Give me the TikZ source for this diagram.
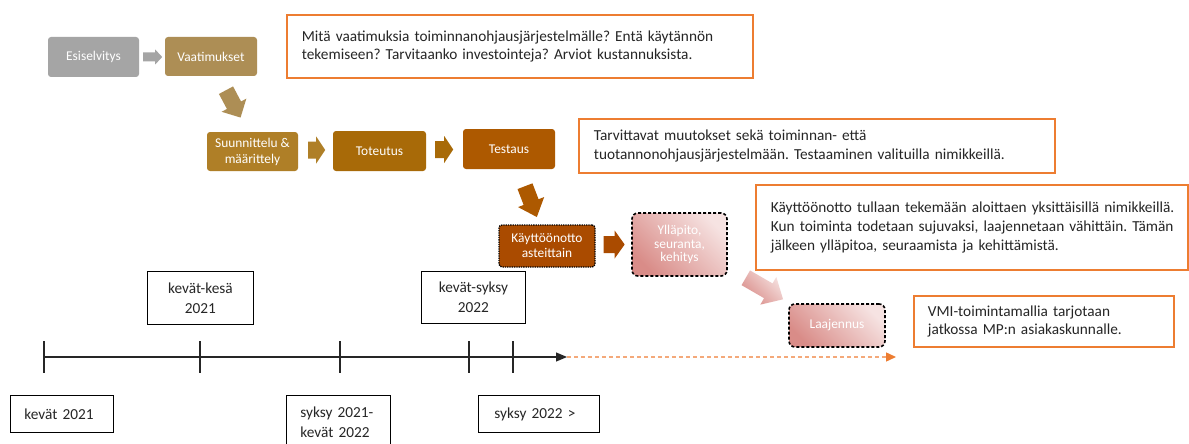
\documentclass[tikz,border=0pt]{standalone}
\usepackage{fontspec}
\setmainfont{Carlito}
\usetikzlibrary{arrows.meta,calc}

\definecolor{cGray}{HTML}{A5A5A5}
\definecolor{cTan}{HTML}{AD8E55}
\definecolor{cGold}{HTML}{AF7F27}
\definecolor{cOchre}{HTML}{A86A08}
\definecolor{cRust}{HTML}{AD5900}
\definecolor{cBrick}{HTML}{AA4B00}
\definecolor{cPinkD}{HTML}{D98C88}
\definecolor{cPinkL}{HTML}{F6E3E2}
\definecolor{cOrange}{HTML}{ED7D31}
\definecolor{cOrangeL}{HTML}{F4A97A}
\definecolor{cInk}{HTML}{262626}

% block arrow: start point, angle below horizontal, length,
% shaft half width, head half width, head length, paint options
\newcommand{\blockarrow}[7]{%
  \path[#7, shift={#1}, rotate=-#2]
    (0,-#4) -- (#3-#6,-#4) -- (#3-#6,-#5) -- (#3,0)
    -- (#3-#6,#5) -- (#3-#6,#4) -- (0,#4) -- cycle;
}

\begin{document}
\frenchspacing
\begin{tikzpicture}[x=1pt, y=-1pt,
  proc/.style={rounded corners=3pt, text=white, align=center, inner sep=0pt,
    font=\fontsize{13.4}{16}\selectfont},
  grad/.style={bottom color=cPinkD, top color=cPinkL, shading angle=-45},
  note/.style={draw=cOrange, line width=1.8pt, fill=white, text=cInk,
    align=left, inner xsep=15pt, inner ysep=0pt, anchor=north west,
    font=\fontsize{15.3}{18.6}\selectfont},
  tlbox/.style={draw=black, line width=0.9pt, fill=white, text=cInk,
    inner xsep=14pt, inner ysep=0pt, anchor=north west,
    font=\fontsize{15.3}{20}\selectfont},
  axisline/.style={draw=black!85, line width=1.1pt}
]
\fill[white] (0,0) rectangle (1189,444);
\useasboundingbox (0,0) rectangle (1189,444);

% process steps
\node[proc, fill=cGray, minimum width=91, minimum height=40] (pre) at (93.5,57) {Esiselvitys};
\node[proc, fill=cTan, minimum width=92, minimum height=39] (req) at (211,56.5) {Vaatimukset};
\node[proc, fill=cGold, minimum width=91, minimum height=39] (plan) at (252.5,151.5) {Suunnittelu \&\\määrittely};
\node[proc, fill=cOchre, minimum width=93, minimum height=40] (impl) at (379.5,151) {Toteutus};
\node[proc, fill=cRust, minimum width=92, minimum height=40] (test) at (509,149) {Testaus};
\node[proc, fill=cBrick, draw=black, densely dotted, line width=1.3pt,
  minimum width=96, minimum height=42, font=\fontsize{13.4}{15}\selectfont] (deploy) at (547,246) {Käyttöönotto\\asteittain};
\node[proc, grad, draw=black, dash pattern=on 3pt off 2pt, line width=1.6pt,
  minimum width=95, minimum height=63, rounded corners=6pt,
  font=\fontsize{13.4}{13.8}\selectfont] (maint) at (679.5,244.5) {Ylläpito,\\seuranta,\\kehitys};
\node[proc, grad, draw=black, dash pattern=on 3pt off 2pt, line width=1.6pt,
  minimum width=96, minimum height=43, rounded corners=6pt] (ext) at (837,325.5) {Laajennus};

% block arrows between the steps
\blockarrow{($(pre.east)+(4,0)$)}{0}{19}{4.5}{7.5}{7}{fill=cGray}
\blockarrow{($(req.south)+(15,14)$)}{62}{31}{8}{14}{14}{fill=cTan}
\blockarrow{($(plan.east)+(10,-1.5)$)}{0}{17}{8.5}{13.5}{9}{fill=cGold}
\blockarrow{($(impl.east)+(9,-1.5)$)}{0}{18}{8.5}{13.5}{9}{fill=cOchre}
\blockarrow{($(test.south)+(16,17)$)}{69}{33}{8}{14}{16}{fill=cRust}
\blockarrow{($(deploy.east)+(8,-1.5)$)}{0}{21}{8.5}{14}{10}{fill=cBrick}
\blockarrow{($(maint.south east)+(18,1)$)}{30}{43}{8.5}{16}{17}{bottom color=cPinkD, top color=cPinkL, shading angle=-45}

% explanatory notes
\node[note, text width=436, minimum height=63] (n1) at (286,14)
  {\mbox{Mitä vaatimuksia toiminnanohjausjärjestelmälle? Entä käytännön}\\
   \mbox{tekemiseen? Tarvitaanko investointeja? Arviot kustannuksista.}};
\node[note, text width=446, minimum height=54] (n2) at (578,118)
  {\mbox{Tarvittavat muutokset sekä toiminnan- että}\\
   \mbox{tuotannonohjausjärjestelmään. Testaaminen valituilla nimikkeillä.}};
\node[note, text width=402, minimum height=85] (n3) at (755,184)
  {\mbox{Käyttöönotto tullaan tekemään aloittaen yksittäisillä nimikkeillä.}\\
   \mbox{Kun toiminta todetaan sujuvaksi, laajennetaan vähittäin. Tämän}\\
   \mbox{jälkeen ylläpitoa, seuraamista ja kehittämistä.}};
\node[note, text width=232, inner xsep=14pt, minimum height=51] (n4) at (913,295)
  {\mbox{VMI-toimintamallia tarjotaan}\\
   \mbox{jatkossa MP:n asiakaskunnalle.}};

% timeline
\coordinate (t0) at (44,357);
\coordinate (tend) at (567,357);
\coordinate (fend) at (896,357);
\draw[axisline, -{Triangle[length=11pt,width=9pt]}] (t0) -- (tend);
\draw[cOrangeL, line width=1.4pt, dash pattern=on 4pt off 3pt,
  -{Triangle[length=10pt,width=9pt,fill=cOrange,color=cOrange]}] (tend) -- (fend);
\foreach \x in {44,200,340,469,513}
  \draw[axisline] (\x,341) -- (\x,373);

% timeline labels
\node[tlbox, text width=75, minimum height=37, align=left] (p1) at (10,395) {kevät 2021};
\node[tlbox, text width=78, minimum height=53, align=center] (p2) at (147,271) {kevät-kesä\\2021};
\node[tlbox, text width=76, minimum height=54, align=left] (p3) at (286,395) {syksy 2021-\\kevät 2022};
\node[tlbox, text width=76, minimum height=52, align=center] (p4) at (421,271) {kevät-syksy\\2022};
\node[tlbox, text width=89, inner xsep=16pt, minimum height=37, align=left] (p5) at (478,395) {syksy 2022 >};
\end{tikzpicture}
\end{document}
